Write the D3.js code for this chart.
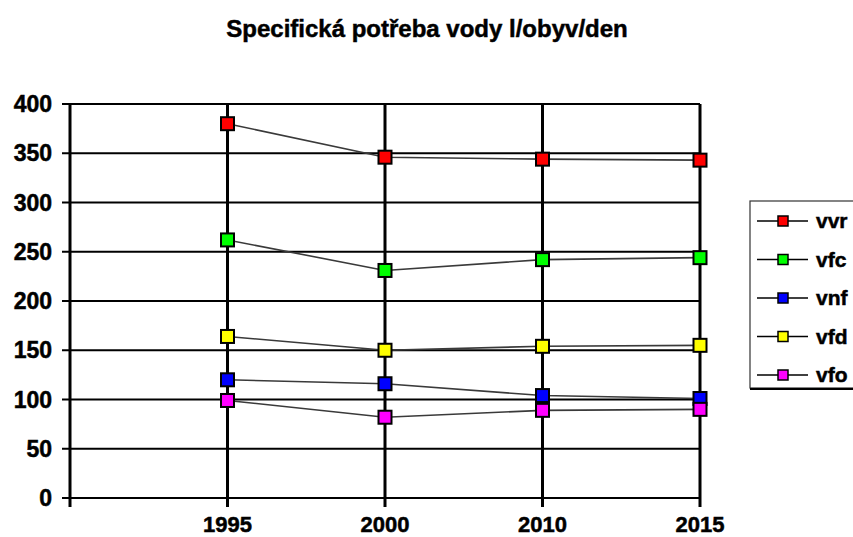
<!DOCTYPE html>
<html><head><meta charset="utf-8">
<script src="https://cdn.jsdelivr.net/npm/d3@7"></script>
<style>body{margin:0;background:#fff}svg{display:block}text{font-family:"Liberation Sans",Arial,sans-serif;font-weight:bold;fill:#000;stroke:#000;stroke-width:0.5px}</style>
</head><body>
<script>
const title = "Specifická potřeba vody l/obyv/den";
const years = ["1995", "2000", "2010", "2015"];
const yTicks = [0, 50, 100, 150, 200, 250, 300, 350, 400];
const seriesNames = ["vvr", "vfc", "vnf", "vfd", "vfo"];
const seriesColors = ["#ff0000", "#00ff00", "#0000ff", "#ffff00", "#ff00ff"];
const vvr = [380, 346, 344, 343];
const vfc = [262, 231, 242, 244];
const vnf = [120, 116, 104, 101];
const vfd = [164, 150, 154, 155];
const vfo = [99, 82, 89, 90];
const seriesValues = [vvr, vfc, vnf, vfd, vfo];

const W = 853, H = 537;
const svg = d3.select("body").append("svg").attr("width", W).attr("height", H);

const x = d3.scaleLinear().domain([0, years.length]).range([70, 700]);
const y = d3.scaleLinear().domain([0, 400]).range([498, 104]);

svg.append("text").attr("x", 427).attr("y", 37).attr("text-anchor", "middle")
  .style("font-size", "24px").text(title);

// horizontal gridlines + y ticks
const yAxis = svg.append("g");
yAxis.selectAll("line").data(yTicks).join("line")
  .attr("x1", 62).attr("x2", 700)
  .attr("y1", d => y(d)).attr("y2", d => y(d))
  .attr("stroke", "#000").attr("stroke-width", 2);
yAxis.selectAll("text").data(yTicks).join("text")
  .attr("x", 52).attr("y", d => y(d) + 8).attr("text-anchor", "end")
  .style("font-size", "23px").text(d => d);

// vertical gridlines at categories
svg.append("g").selectAll("line").data(years).join("line")
  .attr("x1", (d, i) => x(i + 1)).attr("x2", (d, i) => x(i + 1))
  .attr("y1", y(400)).attr("y2", y(0) + 9)
  .attr("stroke", "#000").attr("stroke-width", 3);
svg.append("line").attr("x1", x(0)).attr("x2", x(0))
  .attr("y1", y(400)).attr("y2", y(0) + 9)
  .attr("stroke", "#000").attr("stroke-width", 3);

svg.append("g").selectAll("text").data(years).join("text")
  .attr("x", (d, i) => x(i + 1)).attr("y", 532).attr("text-anchor", "middle")
  .style("font-size", "22px").text(d => d);

const line = d3.line().x((d, i) => x(i + 1)).y(d => y(d));
seriesValues.forEach((vals, s) => {
  svg.append("path").attr("d", line(vals)).attr("fill", "none")
    .attr("stroke", "#3a3a3a").attr("stroke-width", 1.6);
});
seriesValues.forEach((vals, s) => {
  svg.append("g").selectAll("rect").data(vals).join("rect")
    .attr("x", (d, i) => x(i + 1) - 6.5).attr("y", d => y(d) - 6.5)
    .attr("width", 13).attr("height", 13)
    .attr("fill", seriesColors[s]).attr("stroke", "#000").attr("stroke-width", 2);
});

// legend
const lg = svg.append("g");
lg.append("rect").attr("x", 750).attr("y", 201).attr("width", 130).attr("height", 187)
  .attr("fill", "#fff").attr("stroke", "#333").attr("stroke-width", 1.2);
lg.append("line").attr("x1", 750).attr("x2", 860).attr("y1", 389).attr("y2", 389)
  .attr("stroke", "#000").attr("stroke-width", 2);
const ly = d3.scalePoint().domain(seriesNames).range([221, 375]);
seriesNames.forEach((n, s) => {
  const yy = ly(n);
  lg.append("line").attr("x1", 757).attr("x2", 808).attr("y1", yy).attr("y2", yy)
    .attr("stroke", "#000").attr("stroke-width", 1.5);
  lg.append("rect").attr("x", 778).attr("y", yy - 5).attr("width", 10).attr("height", 10)
    .attr("fill", seriesColors[s]).attr("stroke", "#000").attr("stroke-width", 1.5);
  lg.append("text").attr("x", 816).attr("y", yy + 7).style("font-size", "21px").text(n);
});
</script>
</body></html>
